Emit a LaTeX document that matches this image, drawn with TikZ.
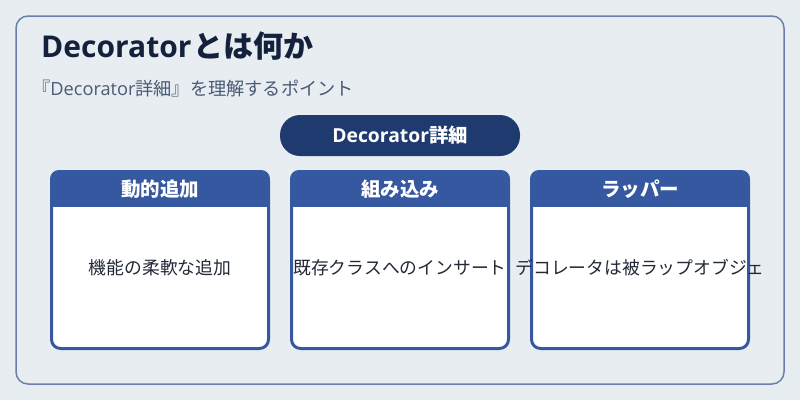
\documentclass[tikz,border=0pt]{standalone}
\usepackage{fontspec}
\setmainfont{Noto Sans CJK JP}
\newfontfamily\latinfont{Open Sans}
\usetikzlibrary{positioning}
\definecolor{pagebg}{HTML}{E8EDF2}
\definecolor{frameln}{HTML}{6A80AA}
\definecolor{titlec}{HTML}{14213D}
\definecolor{subc}{HTML}{4A5A75}
\definecolor{pillc}{HTML}{1F3A6E}
\definecolor{cardc}{HTML}{3558A0}
\definecolor{bodyc}{HTML}{222A38}
\tikzset{
  pill/.style = {rectangle, rounded corners=20pt, fill=pillc, text=white,
    minimum width=240pt, minimum height=41pt, font=\fontsize{19.3}{23}\selectfont\bfseries},
  cardhead/.style = {text=white, font=\fontsize{19.5}{23}\selectfont\bfseries},
  cardtext/.style = {text=bodyc, font=\fontsize{17.8}{21}\selectfont}
}
\begin{document}
\begin{tikzpicture}[x=1pt, y=-1pt]
 \useasboundingbox [fill=pagebg] (0, 0) rectangle (800, 400);
 \draw [frameln, line width=1.5pt, rounded corners=12pt] (16, 16) rectangle (784, 384);
 \node [anchor=base west, text=titlec, font=\fontsize{30}{34}\selectfont\bfseries, inner sep=0pt] (T) at (41, 57) {{\latinfont\bfseries Decorator}\kern2pt とは何か};
 \node [anchor=base west, text=subc, font=\fontsize{18.2}{21}\selectfont, inner sep=0pt] (S) at (32, 95) {『{\latinfont Decorator}詳細』を理解するポイント};
 \node [pill] (P) at (400, 135.5) {{\latinfont\bfseries Decorator}詳細};
 % three cards
 \foreach \cx/\nm/\hd/\bd in {50/A/動的追加/機能の柔軟な追加, 290/B/組み込み/既存クラスへのインサート, 530/C/ラッパー/デコレータは被ラップオブジェ} {
   \begin{scope}
    \clip [rounded corners=9pt] (\cx, 170) rectangle (\cx + 220, 350);
    \fill [white] (\cx, 170) rectangle (\cx + 220, 350);
    \fill [cardc] (\cx, 170) rectangle (\cx + 220, 207);
   \end{scope}
   \draw [cardc, line width=3pt, rounded corners=9pt] (\cx + 1.5, 171.5) rectangle (\cx + 218.5, 348.5);
   \node [cardhead] (H\nm) at (\cx + 110, 189) {\hd};
   \node [cardtext] (B\nm) at (\cx + 110, 268) {\bd};
 }
\end{tikzpicture}
\end{document}
